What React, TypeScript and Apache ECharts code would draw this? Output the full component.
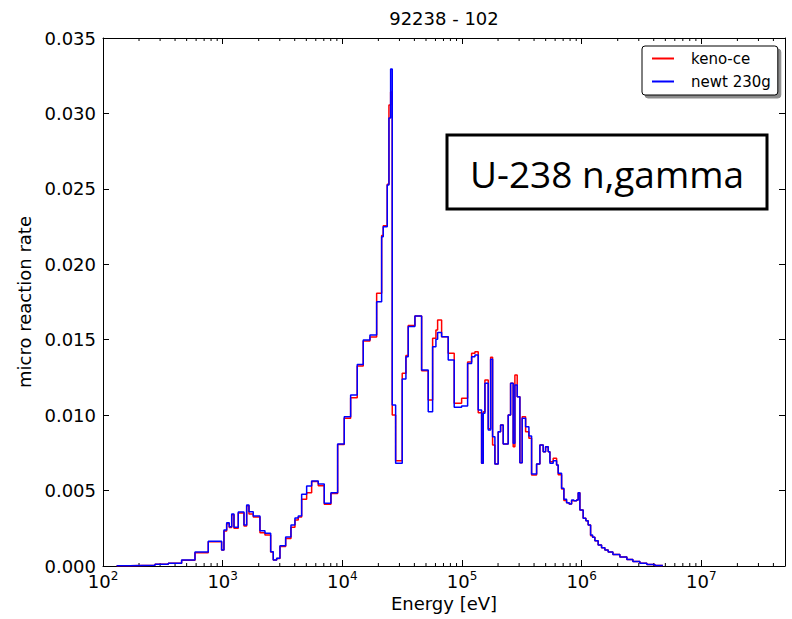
import { useEffect, useRef } from 'react';
import * as echarts from 'echarts';

// Bin edges (eV) of the group structure, ascending
const BIN_EDGES_EV = [
  130, 168, 272, 351, 454, 587, 758, 980, 1025, 1080,
  1135, 1190, 1243, 1350, 1507, 1587, 1659, 1801, 2049, 2256,
  2518, 2647, 2826, 3011, 3360, 3721, 4018, 4281, 4571, 5032,
  5540, 6291, 7061, 8030, 9135, 10373, 11730, 13320, 14950, 17010,
  19350, 21300, 21970, 23720, 24510, 25320, 26120, 27880, 31650, 33990,
  35520, 40410, 45970, 52200, 56810, 60530, 62540, 67540, 76680, 86070,
  99240, 111400, 120300, 128200, 136600, 145800, 150400, 155400, 165600, 173400,
  180100, 188300, 200600, 210100, 220900, 243200, 254700, 267700, 276600, 289200,
  304500, 318300, 339900, 362200, 381400, 420100, 447500, 476900, 499400, 525200,
  542600, 578000, 617100, 636400, 679400, 710100, 747900, 786300, 823400, 860600,
  906700, 935100, 966000, 1029000, 1084000, 1133000, 1187000, 1234000, 1289000, 1373000,
  1466000, 1562000, 1665000, 1823000, 2085000, 2386000, 2677000, 3063000, 3505000, 4088000,
  4769000,
];

// micro reaction rate per bin, newt 230g (blue)
const NEWT_230G = [
  0.00002, 0.00005, 0.00011, 0.00018, 0.0004, 0.00093, 0.00164, 0.00106, 0.00239, 0.00287,
  0.0026, 0.00345, 0.00257, 0.00358, 0.00272, 0.00404, 0.0036, 0.00331, 0.00234, 0.00217,
  0.00095, 0.0004, 0.00051, 0.00135, 0.00192, 0.00272, 0.00318, 0.00331, 0.00475, 0.0053,
  0.00563, 0.00544, 0.00416, 0.00486, 0.00809, 0.0099, 0.01134, 0.01336, 0.01498, 0.01531,
  0.01752, 0.02183, 0.02249, 0.02526, 0.0297, 0.03295, 0.01067, 0.00681, 0.0124, 0.01387,
  0.01588, 0.01657, 0.01299, 0.01023, 0.01454, 0.01503, 0.01547, 0.0152, 0.01366, 0.01052,
  0.01061, 0.01342, 0.01387, 0.01399, 0.01034, 0.00681, 0.01012, 0.01211, 0.00902, 0.0137,
  0.00857, 0.00676, 0.0089, 0.00935, 0.00809, 0.01001, 0.01211, 0.00813, 0.012, 0.01122,
  0.00685, 0.00979, 0.00923, 0.00862, 0.0061, 0.00676, 0.00802, 0.00758, 0.00791, 0.00758,
  0.00681, 0.00698, 0.0067, 0.00615, 0.00515, 0.00442, 0.0042, 0.00411, 0.00438, 0.00433,
  0.00438, 0.00486, 0.00371, 0.00316, 0.003, 0.00272, 0.00206, 0.0019, 0.00168, 0.00139,
  0.00121, 0.00106, 0.00093, 0.00076, 0.0006, 0.00043, 0.0003, 0.00018, 0.0001, 0.00004,
];

// micro reaction rate per bin, keno-ce (red)
const KENO_CE = [
  0.00002, 0.00005, 0.00011, 0.00018, 0.00038, 0.00088, 0.0016, 0.00106, 0.00232, 0.0028,
  0.00255, 0.0034, 0.0025, 0.00352, 0.00265, 0.004, 0.00345, 0.00325, 0.00221, 0.00205,
  0.00092, 0.0004, 0.0005, 0.0013, 0.00183, 0.00257, 0.00305, 0.00325, 0.00442, 0.00486,
  0.0056, 0.00532, 0.0041, 0.0048, 0.00805, 0.00979, 0.01116, 0.01326, 0.01492, 0.01518,
  0.01808, 0.0219, 0.02256, 0.0253, 0.03056, 0.03142, 0.01001, 0.00698, 0.01277, 0.01395,
  0.01594, 0.01657, 0.01295, 0.011, 0.01509, 0.01564, 0.01631, 0.0152, 0.0141, 0.01079,
  0.01112, 0.01352, 0.0141, 0.01421, 0.01016, 0.00681, 0.01023, 0.01233, 0.0091, 0.01383,
  0.00802, 0.00676, 0.0089, 0.00935, 0.00809, 0.01001, 0.01211, 0.00791, 0.01266, 0.01122,
  0.00685, 0.0099, 0.0089, 0.00847, 0.00603, 0.00676, 0.00802, 0.00758, 0.00791, 0.00758,
  0.00691, 0.00714, 0.0067, 0.00605, 0.0051, 0.00435, 0.0042, 0.00411, 0.00432, 0.00433,
  0.00438, 0.00486, 0.00371, 0.00316, 0.003, 0.00272, 0.002, 0.0019, 0.00168, 0.00139,
  0.00121, 0.00106, 0.00093, 0.00076, 0.0006, 0.00043, 0.0003, 0.00018, 0.0001, 0.00004,
];

const X_MIN = 100;
const X_MAX = 5e7;
const Y_MIN = 0;
const Y_MAX = 0.035;
const Y_INTERVAL = 0.005;
const X_DECADES = [1e2, 1e3, 1e4, 1e5, 1e6, 1e7];
const X_MINOR_MULTIPLIERS = [2, 3, 4, 5, 6, 7, 8, 9];

const TITLE = '92238 - 102';
const X_NAME = 'Energy [eV]';
const Y_NAME = 'micro reaction rate';
const SERIES_NAMES = ['keno-ce', 'newt 230g'];
const ANNOTATION = 'U-238 n,gamma';

const FONT = 'DejaVu Sans';

function stepData(values: number[]) {
  return BIN_EDGES_EV.map((e, i) => [e, values[Math.min(i, values.length - 1)]]);
}

const MINOR_TICKS: number[] = [];
X_DECADES.forEach((d) => {
  X_MINOR_MULTIPLIERS.forEach((m) => {
    const v = d * m;
    if (v < X_MAX) MINOR_TICKS.push(v);
  });
});

function xLabel(v: number) {
  const e = Math.round(Math.log10(v));
  if (Math.abs(v / Math.pow(10, e) - 1) > 1e-6) return '';
  return `{b|10}{s|${e}}`;
}

export default function App() {
  const ref = useRef<HTMLDivElement>(null);

  useEffect(() => {
    const chart = echarts.init(ref.current!, null, { renderer: 'svg' });
    const axisLine = { show: true, onZero: false, lineStyle: { color: '#000', width: 1 } };
    const tick = { show: true, inside: true, length: 6, lineStyle: { color: '#000', width: 1 } };
    const option: any = {
      animation: false,
      backgroundColor: '#fff',
      title: {
        text: TITLE,
        left: 444,
        top: 9,
        textAlign: 'center',
        padding: 0,
        textStyle: { fontFamily: FONT, fontSize: 18, fontWeight: 'normal', color: '#000' },
      },
      grid: { left: 103, right: 7, top: 38, bottom: 53, containLabel: false, outerBoundsMode: 'none' },
      legend: {
        orient: 'vertical',
        left: 642,
        top: 46,
        padding: [4, 7, 5, 10],
        itemWidth: 22,
        itemHeight: 2,
        itemGap: 6,
        icon: 'rect',
        backgroundColor: '#fff',
        borderColor: '#000',
        borderWidth: 1,
        borderRadius: 3,
        shadowColor: 'rgba(0,0,0,0.45)',
        shadowOffsetX: 3,
        shadowOffsetY: 3,
        shadowBlur: 0,
        textStyle: { fontFamily: FONT, fontSize: 15, color: '#000', padding: [0, 0, 0, 12], lineHeight: 17 },
        data: [
          { name: SERIES_NAMES[0], itemStyle: { color: '#ff0000' } },
          { name: SERIES_NAMES[1], itemStyle: { color: '#0000ff' } },
        ],
      },
      xAxis: [
        {
          type: 'log',
          logBase: 10,
          min: X_MIN,
          max: X_MAX,
          position: 'bottom',
          axisLine,
          axisTick: tick,
          splitLine: { show: false },
          axisLabel: {
            margin: 4,
            formatter: xLabel,
            rich: {
              b: { fontFamily: FONT, fontSize: 18, color: '#000', lineHeight: 22 },
              s: { fontFamily: FONT, fontSize: 12, color: '#000', lineHeight: 12, verticalAlign: 'top' },
            },
          },
          name: X_NAME,
          nameLocation: 'middle',
          nameGap: 28,
          nameTextStyle: { fontFamily: FONT, fontSize: 18, color: '#000' },
        },
        {
          type: 'log',
          logBase: 10,
          min: X_MIN,
          max: X_MAX,
          position: 'top',
          axisLine,
          axisTick: tick,
          splitLine: { show: false },
          axisLabel: { show: false },
        },
      ],
      yAxis: [
        {
          type: 'value',
          min: Y_MIN,
          max: Y_MAX,
          interval: Y_INTERVAL,
          position: 'left',
          axisLine,
          axisTick: tick,
          splitLine: { show: false },
          axisLabel: {
            margin: 7,
            fontFamily: FONT,
            fontSize: 18,
            color: '#000',
            formatter: (v: number) => v.toFixed(3),
          },
          name: Y_NAME,
          nameLocation: 'middle',
          nameGap: 66,
          nameTextStyle: { fontFamily: FONT, fontSize: 18, color: '#000' },
        },
        {
          type: 'value',
          min: Y_MIN,
          max: Y_MAX,
          interval: Y_INTERVAL,
          position: 'right',
          axisLine,
          axisTick: tick,
          splitLine: { show: false },
          axisLabel: { show: false },
        },
      ],
      series: [
        {
          type: 'custom',
          xAxisIndex: 0,
          yAxisIndex: 0,
          silent: true,
          clip: false,
          z: 3,
          data: MINOR_TICKS.map((v) => [v, Y_MIN]),
          encode: { x: 0, y: 1 },
          renderItem: (_params: any, api: any) => {
            const v = api.value(0);
            const b = api.coord([v, Y_MIN]);
            const t = api.coord([v, Y_MAX]);
            return {
              type: 'group',
              children: [
                { type: 'line', shape: { x1: b[0], y1: b[1], x2: b[0], y2: b[1] - 3 }, style: { stroke: '#000', lineWidth: 1 } },
                { type: 'line', shape: { x1: t[0], y1: t[1], x2: t[0], y2: t[1] + 3 }, style: { stroke: '#000', lineWidth: 1 } },
              ],
            };
          },
        },
        {
          name: SERIES_NAMES[0],
          type: 'line',
          step: 'end',
          symbol: 'none',
          showSymbol: false,
          data: stepData(KENO_CE),
          lineStyle: { color: '#ff0000', width: 1.5 },
          itemStyle: { color: '#ff0000' },
          z: 4,
        },
        {
          name: SERIES_NAMES[1],
          type: 'line',
          step: 'end',
          symbol: 'none',
          showSymbol: false,
          data: stepData(NEWT_230G),
          lineStyle: { color: '#0000ff', width: 1.5 },
          itemStyle: { color: '#0000ff' },
          z: 5,
        },
      ],
      graphic: [
        {
          type: 'rect',
          shape: { x: 447, y: 135, width: 320, height: 74 },
          style: { fill: '#fff', stroke: '#000', lineWidth: 3 },
          z: 10,
        },
        {
          type: 'text',
          x: 607,
          y: 173,
          style: {
            text: ANNOTATION,
            font: '37px "Open Sans"',
            fill: '#000',
            textAlign: 'center',
            textVerticalAlign: 'middle',
          },
          z: 11,
        },
      ],
    };
    chart.setOption(option);
    return () => chart.dispose();
  }, []);

  return (
    <div
      ref={ref}
      style={{ position: 'fixed', left: 0, top: 0, width: 792, height: 619, background: '#fff' }}
    />
  );
}
